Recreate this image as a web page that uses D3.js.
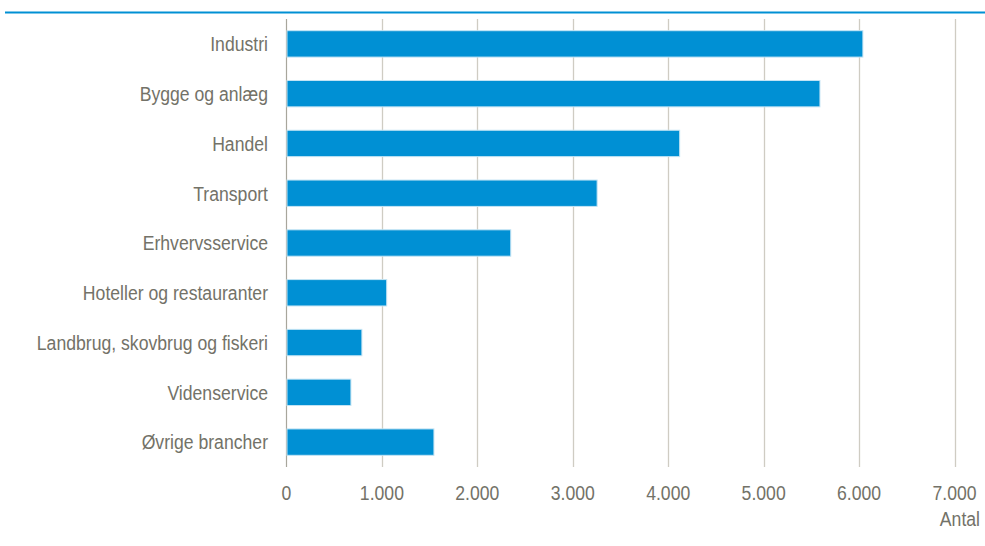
<!DOCTYPE html>
<html>
<head>
<meta charset="utf-8">
<script src="https://cdn.jsdelivr.net/npm/d3@7"></script>
<style>
  body { margin: 0; background: #fff; }
  text { font-family: "Liberation Sans", Arial, sans-serif; fill: #737268; }
</style>
</head>
<body>
<div class="canvas"></div>
<script>
const categories = ['Industri', 'Bygge og anlæg', 'Handel', 'Transport', 'Erhvervsservice',
    'Hoteller og restauranter', 'Landbrug, skovbrug og fiskeri', 'Videnservice', 'Øvrige brancher'];
const values = [6040, 5590, 4120, 3255, 2350, 1050, 790, 675, 1545];
const ticks = [0, 1000, 2000, 3000, 4000, 5000, 6000, 7000];
const axisTitle = 'Antal';

const dims = { width: 985, height: 546 };
const plot = { left: 286.5, right: 954.5, top: 19, bottom: 467 };
// narrow font look: regular sans squeezed horizontally
const font = { size: 21, squeeze: 0.84 };

const svg = d3.select('.canvas')
    .append('svg')
    .attr('width', dims.width)
    .attr('height', dims.height)
;

// top rule (title above is cut off in the source)
svg.append('line')
    .attr('x1', 5).attr('x2', dims.width)
    .attr('y1', 12.5).attr('y2', 12.5)
    .attr('stroke', '#0090d4')
    .attr('stroke-width', 2)
;

const x = d3.scaleLinear()
    .domain([0, 7000])
    .range([plot.left, plot.right])
;

const y = d3.scaleBand()
    .domain(categories)
    .range([plot.top, plot.bottom])
    .paddingInner(0.47)
    .paddingOuter(0.235)
;

const label = (sel, px, py, anchor) => sel
    .attr('transform', (d, i) => `translate(${px(d, i)}, ${py(d, i)}) scale(${font.squeeze}, 1)`)
    .attr('dy', '0.35em')
    .attr('text-anchor', anchor)
    .attr('font-size', font.size)
;

// gridlines
svg.append('g')
    .selectAll('line')
    .data(ticks.slice(1))
    .enter()
    .append('line')
        .attr('x1', d => Math.round(x(d)) + 0.5)
        .attr('x2', d => Math.round(x(d)) + 0.5)
        .attr('y1', plot.top)
        .attr('y2', plot.bottom)
        .attr('stroke', '#cfccc3')
        .attr('stroke-width', 1.3)
;

// zero line
svg.append('line')
    .attr('x1', x(0)).attr('x2', x(0))
    .attr('y1', plot.top).attr('y2', plot.bottom)
    .attr('stroke', '#a8a69c')
    .attr('stroke-width', 1.2)
;

// bars
svg.append('g')
    .selectAll('rect')
    .data(values)
    .enter()
    .append('rect')
        .attr('x', x(0) + 0.5)
        .attr('y', (d, i) => y(categories[i]))
        .attr('width', d => x(d) - x(0) - 0.5)
        .attr('height', y.bandwidth())
        .attr('fill', '#0090d4')
        .attr('stroke', '#c4e4f4')
        .attr('stroke-width', 1)
;

// category labels
svg.append('g')
    .selectAll('text')
    .data(categories)
    .enter()
    .append('text')
        .call(label, () => 268, d => y(d) + y.bandwidth() / 2, 'end')
        .text(d => d)
;

// x tick labels
const fmt = d3.formatLocale({ decimal: ',', thousands: '.', grouping: [3], currency: ['', ''] }).format(',');
svg.append('g')
    .selectAll('text')
    .data(ticks)
    .enter()
    .append('text')
        .call(label, d => x(d), () => 493, 'middle')
        .text(d => fmt(d))
;

svg.append('text')
    .datum(axisTitle)
    .call(label, () => 980, () => 519, 'end')
    .text(d => d)
;
</script>
</body>
</html>
